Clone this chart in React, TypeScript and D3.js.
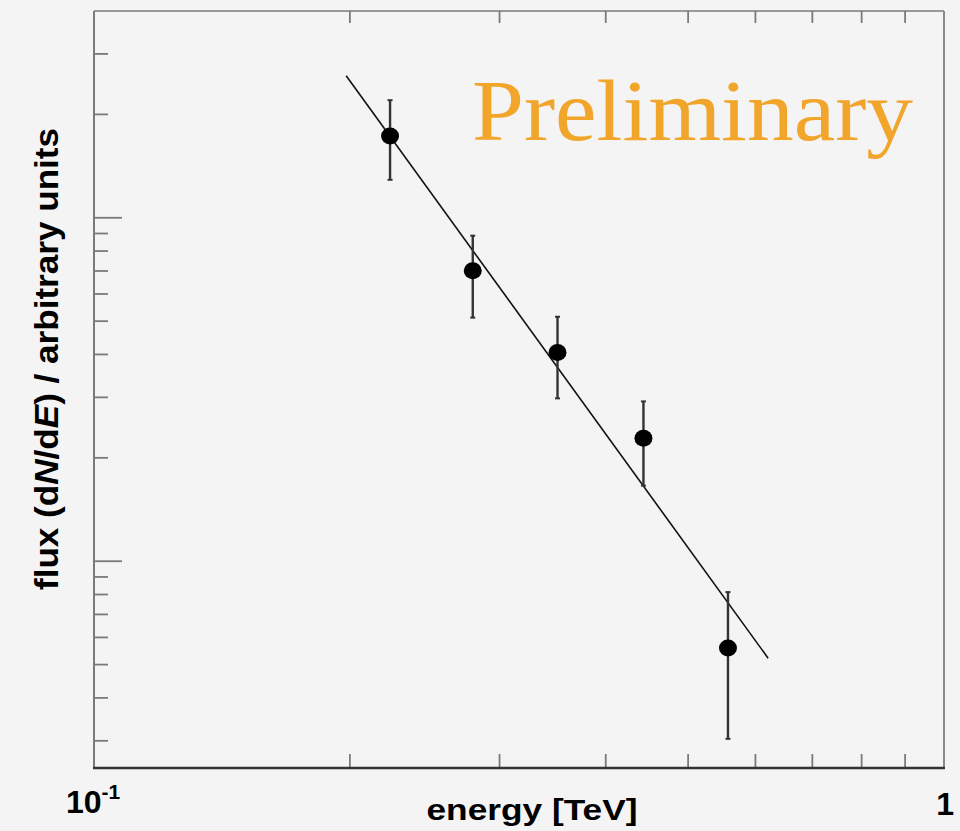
import React from "react";
import * as d3 from "d3";

// ---- data ----
const energies = [0.223, 0.279, 0.351, 0.443, 0.557]; // TeV
const fluxValues = [17.3, 7.01, 4.05, 2.28, 0.559];
const fluxUpper = [22.0, 8.87, 5.15, 2.92, 0.813];
const fluxLower = [12.9, 5.12, 2.98, 1.66, 0.304];

const fitEnergies = [0.198, 0.621];
const fitFluxes = [25.9, 0.522];

const xDomain = [0.1, 1];
const yDomain = [0.25, 40];
const xTicks = [0.2, 0.3, 0.4, 0.5, 0.6, 0.7, 0.8, 0.9];
const yMajorTicks = [1, 10];
const yMinorTicks = [0.3, 0.4, 0.5, 0.6, 0.7, 0.8, 0.9, 2, 3, 4, 5, 6, 7, 8, 9, 20, 30];

const xAxisTitle = "energy [TeV]";
const watermark = "Preliminary";

export default function App() {
  const W = 960;
  const H = 831;
  const left = 94;
  const right = 944;
  const top = 11;
  const bottom = 768;

  const x = d3.scaleLog().domain(xDomain).range([left, right]);
  const y = d3.scaleLog().domain(yDomain).range([bottom, top]);

  const fitLine = d3
    .line<number>()
    .x((_, i) => x(fitEnergies[i]))
    .y((d) => y(d));

  const axisGray = "#7a7a7a";
  const font = "'Liberation Sans', Arial, Helvetica, sans-serif";

  return (
    <div style={{ position: "fixed", left: 0, top: 0, width: W, height: H, background: "#f4f4f4" }}>
      <svg width={W} height={H} style={{ display: "block" }}>
        <rect x={0} y={0} width={W} height={H} fill="#f4f4f4" />

        {/* frame */}
        <line x1={left} y1={top} x2={right} y2={top} stroke="#9a9a9a" strokeWidth={2} />
        <line x1={right} y1={top} x2={right} y2={bottom} stroke="#8a8a8a" strokeWidth={2} />
        <line x1={left} y1={top} x2={left} y2={bottom} stroke={axisGray} strokeWidth={2} />

        {/* y ticks */}
        {yMajorTicks.map((t) => (
          <line key={"ymaj" + t} x1={left} x2={left + 28} y1={y(t)} y2={y(t)} stroke={axisGray} strokeWidth={1.8} />
        ))}
        {yMinorTicks.map((t) => (
          <line key={"ymin" + t} x1={left} x2={left + 14} y1={y(t)} y2={y(t)} stroke={axisGray} strokeWidth={1.8} />
        ))}

        {/* x ticks bottom and top */}
        {xTicks.map((t) => (
          <g key={"xt" + t}>
            <line x1={x(t)} x2={x(t)} y1={bottom} y2={bottom - 14} stroke={axisGray} strokeWidth={1.8} />
            <line x1={x(t)} x2={x(t)} y1={top} y2={top + 12} stroke={axisGray} strokeWidth={1.8} />
          </g>
        ))}

        {/* bottom axis */}
        <line x1={left - 1} y1={bottom} x2={right + 1} y2={bottom} stroke="#333" strokeWidth={2.5} />

        {/* fit line */}
        <path d={fitLine(fitFluxes) || ""} fill="none" stroke="#111" strokeWidth={1.6} />

        {/* error bars and points */}
        {energies.map((e, i) => (
          <g key={"p" + i}>
            <line x1={x(e)} x2={x(e)} y1={y(fluxUpper[i])} y2={y(fluxLower[i])} stroke="#333" strokeWidth={2.4} />
            <line x1={x(e) - 2.5} x2={x(e) + 2.5} y1={y(fluxUpper[i])} y2={y(fluxUpper[i])} stroke="#333" strokeWidth={2} />
            <line x1={x(e) - 2.5} x2={x(e) + 2.5} y1={y(fluxLower[i])} y2={y(fluxLower[i])} stroke="#333" strokeWidth={2} />
            <ellipse cx={x(e)} cy={y(fluxValues[i])} rx={9} ry={8.5} fill="#000" />
          </g>
        ))}

        {/* watermark */}
        <text
          x={472}
          y={140}
          fontFamily="'Liberation Serif', 'DejaVu Serif', serif"
          fontSize={86}
          fill="#f2a52b"
          textLength={441}
          lengthAdjust="spacingAndGlyphs"
        >
          {watermark}
        </text>

        {/* x tick labels */}
        <text x={66} y={813} fontFamily={font} fontWeight="bold" fontSize={32} fill="#000">
          10
          <tspan fontSize={21} dy={-14}>-1</tspan>
        </text>
        <text x={954} y={815} textAnchor="end" fontFamily={font} fontWeight="bold" fontSize={32} fill="#000">
          1
        </text>

        {/* axis titles */}
        <text
          x={532}
          y={820}
          textAnchor="middle"
          fontFamily={font}
          fontWeight="bold"
          fontSize={30}
          fill="#000"
          textLength={211}
          lengthAdjust="spacingAndGlyphs"
        >
          {xAxisTitle}
        </text>
        <text
          transform={`translate(58,359) rotate(-90)`}
          textAnchor="middle"
          fontFamily={font}
          fontWeight="bold"
          fontSize={33}
          fill="#000"
          textLength={462}
          lengthAdjust="spacingAndGlyphs"
        >
          flux (d<tspan fontStyle="italic">N</tspan>/d<tspan fontStyle="italic">E</tspan>) / arbitrary units
        </text>
      </svg>
    </div>
  );
}
